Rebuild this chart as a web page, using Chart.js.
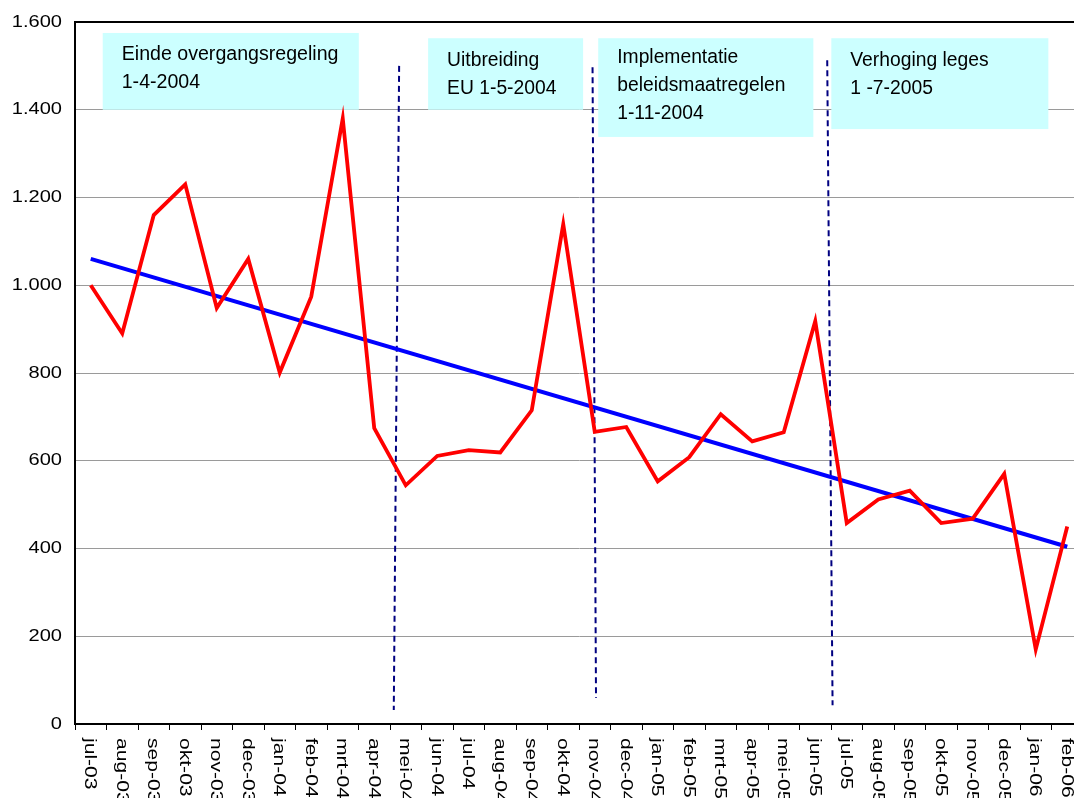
<!DOCTYPE html>
<html>
<head>
<meta charset="utf-8">
<script src="https://cdn.jsdelivr.net/npm/chart.js@4"></script>
<style>
  html, body { margin: 0; padding: 0; background: #fff; overflow: hidden; }
  #wrap { position: relative; width: 1084px; height: 798px; }
</style>
</head>
<body>
<div id="wrap"><canvas id="c"></canvas></div>
<script>
// ---- Data ----
const months = ["jul-03","aug-03","sep-03","okt-03","nov-03","dec-03","jan-04","feb-04","mrt-04","apr-04",
  "mei-04","jun-04","jul-04","aug-04","sep-04","okt-04","nov-04","dec-04","jan-05","feb-05",
  "mrt-05","apr-05","mei-05","jun-05","jul-05","aug-05","sep-05","okt-05","nov-05","dec-05","jan-06","feb-06"];
const monthlyValues = [1000, 890, 1160, 1230, 948, 1060, 801, 974, 1380, 674,
  544, 611, 624, 619, 715, 1139, 666, 677, 553, 608,
  706, 644, 665, 918, 458, 512, 532, 458, 468, 570, 170, 450];
const trendValues = [1060, null, null, null, null, null, null, null, null, null,
  null, null, null, null, null, null, null, null, null, null,
  null, null, null, null, null, null, null, null, null, null, null, 404];
const yTickValues = [0, 200, 400, 600, 800, 1000, 1200, 1400, 1600];
const yTickLabels = ["0", "200", "400", "600", "800", "1.000", "1.200", "1.400", "1.600"];

// Event annotations (positions in scale units: category index / value)
const eventLabels = [
  ["Einde overgangsregeling", "1-4-2004"],
  ["Uitbreiding", "EU 1-5-2004"],
  ["Implementatie", "beleidsmaatregelen", "1-11-2004"],
  ["Verhoging leges", "1 -7-2005"]
];
const eventBoxes = [
  {x0: 0.38, x1: 8.51, yTop: 1575, yBottom: 1400},
  {x0: 10.71, x1: 15.63, yTop: 1563, yBottom: 1400},
  {x0: 16.11, x1: 22.94, yTop: 1563, yBottom: 1338},
  {x0: 23.51, x1: 30.40, yTop: 1563, yBottom: 1356}
];
const eventLines = [
  {xTop: 9.79, xBottom: 9.62, yTop: 1500, yBottom: 32},
  {xTop: 15.93, xBottom: 16.04, yTop: 1497, yBottom: 59},
  {xTop: 23.38, xBottom: 23.55, yTop: 1513, yBottom: 43}
];

const FONT = '"Liberation Sans", Arial, sans-serif';

const backgroundPlugin = {
  id: 'events',
  beforeDatasetsDraw(chart) {
    const {ctx, scales: {x, y}} = chart;
    ctx.save();
    eventBoxes.forEach((b, i) => {
      const left = x.getPixelForValue(b.x0), right = x.getPixelForValue(b.x1);
      const top = y.getPixelForValue(b.yTop), bottom = y.getPixelForValue(b.yBottom);
      ctx.fillStyle = '#ccffff';
      ctx.fillRect(left, top, right - left, bottom - top);
      ctx.fillStyle = '#000';
      ctx.font = (i === 0 ? '19.6px ' : '19.3px ') + FONT;
      ctx.textAlign = 'left';
      ctx.textBaseline = 'middle';
      const firstOffset = i === 2 ? 19 : 22;
      eventLabels[i].forEach((t, k) => {
        ctx.fillText(t, left + 19, top + firstOffset + k * 28);
      });
    });
    ctx.strokeStyle = '#000080';
    ctx.lineWidth = 2;
    ctx.setLineDash([6, 4]);
    eventLines.forEach(l => {
      ctx.beginPath();
      ctx.moveTo(x.getPixelForValue(l.xTop), y.getPixelForValue(l.yTop));
      ctx.lineTo(x.getPixelForValue(l.xBottom), y.getPixelForValue(l.yBottom));
      ctx.stroke();
    });
    ctx.restore();
  },
  afterDraw(chart) {
    const {ctx, scales: {x, y}} = chart;
    ctx.save();
    ctx.fillStyle = '#000';
    ctx.font = '17px ' + FONT;
    ctx.textAlign = 'right';
    ctx.textBaseline = 'middle';
    yTickValues.forEach((v, i) => {
      ctx.save();
      ctx.translate(62, y.getPixelForValue(v));
      ctx.scale(1.18, 1);
      ctx.fillText(yTickLabels[i], 0, 0);
      ctx.restore();
    });
    ctx.font = '17px ' + FONT;
    ctx.textAlign = 'left';
    ctx.textBaseline = 'middle';
    months.forEach((m, i) => {
      ctx.save();
      ctx.translate(x.getPixelForValue(i) - 1, y.bottom + 14);
      ctx.rotate(Math.PI / 2);
      ctx.scale(1.24, 1);
      ctx.fillText(m, 0, 0);
      ctx.restore();
    });
    ctx.restore();
  }
};

new Chart(document.getElementById('c'), {
  type: 'line',
  data: {
    labels: months,
    datasets: [
      {
        data: monthlyValues,
        borderColor: '#ff0000',
        borderWidth: 3.8,
        pointRadius: 0,
        tension: 0,
        borderJoinStyle: 'miter',
        fill: false
      },
      {
        data: trendValues,
        borderColor: '#0000ff',
        borderWidth: 4,
        pointRadius: 0,
        tension: 0,
        spanGaps: true,
        fill: false
      }
    ]
  },
  options: {
    responsive: true,
    maintainAspectRatio: false,
    animation: false,
    devicePixelRatio: 1,
    layout: { padding: { top: 22, left: 0, right: 1, bottom: 0 } },
    plugins: { legend: { display: false }, tooltip: { enabled: false }, title: { display: false } },
    scales: {
      x: {
        type: 'category',
        offset: true,
        ticks: { display: false },
        grid: {
          offset: true,
          drawOnChartArea: false,
          drawTicks: true,
          tickLength: 6,
          color: '#000',
          lineWidth: 1
        },
        border: { display: true, color: '#000', width: 2 },
        afterFit(scale) { scale.height = 74; }
      },
      y: {
        min: 0,
        max: 1600,
        ticks: { display: false, stepSize: 200 },
        grid: {
          drawTicks: false,
          color: c => (c.tick && c.tick.value === 1600) ? '#000' : '#9a9a9a',
          lineWidth: c => (c.tick && c.tick.value === 1600) ? 2 : 1
        },
        border: { display: true, color: '#000', width: 2 },
        afterFit(scale) { scale.width = 75; }
      }
    }
  },
  plugins: [backgroundPlugin]
});
</script>
</body>
</html>
